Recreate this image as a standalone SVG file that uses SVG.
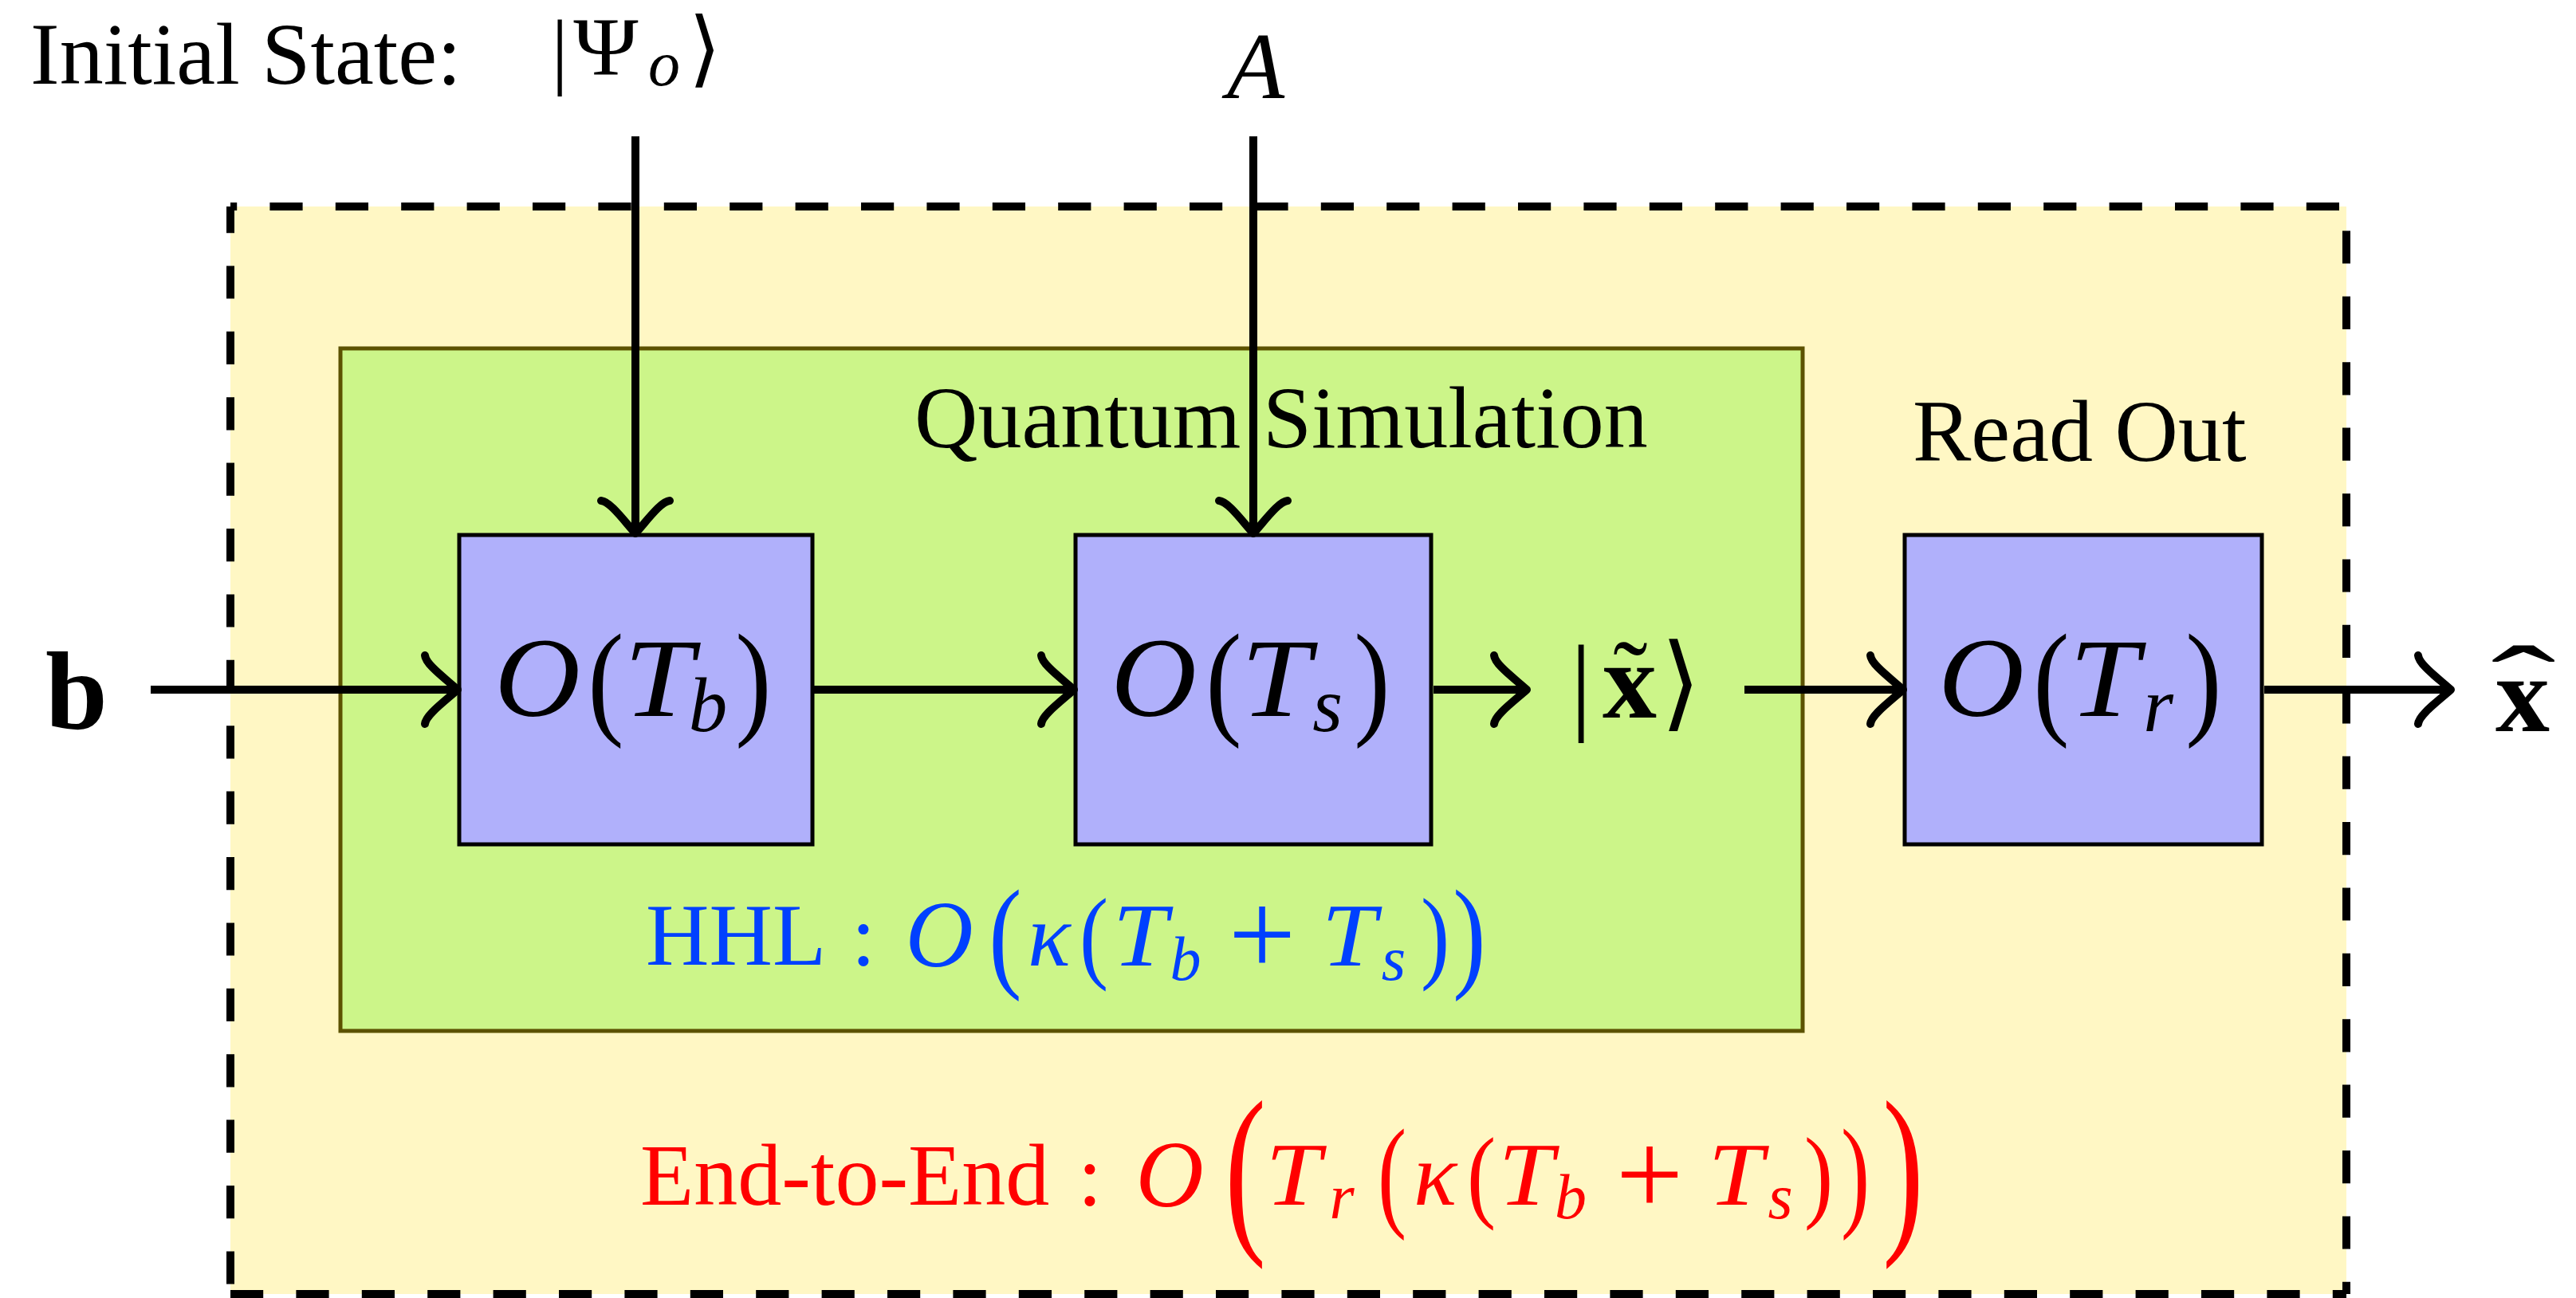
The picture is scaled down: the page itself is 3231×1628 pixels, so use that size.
<svg xmlns="http://www.w3.org/2000/svg" width="3231" height="1628" viewBox="0 0 3231 1628">
<defs>
<style>
.t{font-family:"Liberation Serif","Times New Roman",serif;fill:#000}
.it{font-style:italic}
.bd{font-weight:bold}
.blue{fill:#0040FF}
.red{fill:#FF0000}
.ang{font-family:"DejaVu Sans","Liberation Serif",serif}
.dash{stroke:#000;stroke-width:10;stroke-dasharray:41.2 41.2;fill:none}
.box{fill:#B0B0FB;stroke:#000;stroke-width:5}
.con{stroke:#000;stroke-width:10;fill:none;marker-end:url(#arr)}
</style>
<marker id="arr" markerUnits="userSpaceOnUse" viewBox="-50 -50 60 100" refX="0" refY="0" markerWidth="60" markerHeight="100" orient="auto" overflow="visible">
<path d="M-41,-43 C-40,-32 -18,-16 0,0 C-18,16 -40,32 -41,43" fill="none" stroke="#000" stroke-width="10" stroke-linecap="round" stroke-linejoin="round"/>
</marker>
</defs>

<g id="end-to-end-box">
<rect x="289" y="259" width="2654" height="1364" fill="#FFF7C4"/>
<line class="dash" x1="289" y1="259" x2="289" y2="1623" stroke-dashoffset="8"/>
<line class="dash" x1="289" y1="259" x2="2943" y2="259" stroke-dashoffset="33"/>
<line class="dash" x1="2943" y1="259" x2="2943" y2="1623" stroke-dashoffset="52"/>
<line class="dash" x1="289" y1="1623" x2="2943" y2="1623" stroke-dashoffset="0"/>
</g>

<g id="quantum-simulation">
<rect x="427" y="437" width="1834" height="856" fill="#CCF589" stroke="#5C5200" stroke-width="5"/>
<text class="t" x="1147" y="561" font-size="110">Quantum Simulation</text>
</g>

<g id="read-out-label">
<text class="t" x="2399" y="578" font-size="110">Read Out</text>
</g>

<g id="node-Tb">
<rect class="box" x="576" y="671" width="443" height="388"/>
<text class="t it" transform="translate(674,898) scale(1.05,1)" font-size="142" text-anchor="middle">O</text>
<text class="t" transform="translate(760,865) scale(0.85,1)" y="40" font-size="160" text-anchor="middle">(</text>
<text class="t it" transform="translate(826,898) scale(1.12,1)" font-size="140" text-anchor="middle">T</text>
<text class="t it" x="888" y="917" font-size="97" text-anchor="middle">b</text>
<text class="t" transform="translate(945,865) scale(0.85,1)" y="40" font-size="160" text-anchor="middle">)</text>
</g>

<g id="node-Ts">
<rect class="box" x="1349" y="671" width="446" height="388"/>
<text class="t it" transform="translate(1447,898) scale(1.05,1)" font-size="142" text-anchor="middle">O</text>
<text class="t" transform="translate(1535,865) scale(0.85,1)" y="40" font-size="160" text-anchor="middle">(</text>
<text class="t it" transform="translate(1600,898) scale(1.12,1)" font-size="140" text-anchor="middle">T</text>
<text class="t it" x="1665" y="917" font-size="97" text-anchor="middle">s</text>
<text class="t" transform="translate(1721,865) scale(0.85,1)" y="40" font-size="160" text-anchor="middle">)</text>
</g>

<g id="node-Tr">
<rect class="box" x="2389" y="671" width="448" height="388"/>
<text class="t it" transform="translate(2485,898) scale(1.05,1)" font-size="142" text-anchor="middle">O</text>
<text class="t" transform="translate(2573,865) scale(0.85,1)" y="40" font-size="160" text-anchor="middle">(</text>
<text class="t it" transform="translate(2639,898) scale(1.12,1)" font-size="140" text-anchor="middle">T</text>
<text class="t it" x="2707" y="917" font-size="97" text-anchor="middle">r</text>
<text class="t" transform="translate(2764,865) scale(0.85,1)" y="40" font-size="160" text-anchor="middle">)</text>
</g>

<g id="state-x-tilde">
<text class="t" x="1983" y="903" font-size="136" text-anchor="middle">|</text>
<text class="t bd" x="2044" y="900" font-size="136" text-anchor="middle">x</text>
<text class="t" x="2045" y="893" font-size="130" text-anchor="middle">˜</text>
<text class="t ang" x="2108" y="900" font-size="130" text-anchor="middle">⟩</text>
</g>

<g id="input-b">
<text class="t bd" x="96" y="914" font-size="140" text-anchor="middle">b</text>
</g>

<g id="output-x-hat">
<text class="t bd" x="3164" y="917" font-size="136" text-anchor="middle">x</text>
<text class="t" transform="translate(3165,904) scale(1.8,1)" font-size="136" text-anchor="middle">ˆ</text>
</g>

<g id="initial-state">
<text class="t" x="38" y="105" font-size="110">Initial State:</text>
<text class="t" x="702" y="98" font-size="106" text-anchor="middle">|</text>
<text class="t" transform="translate(760,94) scale(1.06,1)" font-size="104" text-anchor="middle">Ψ</text>
<text class="t it" x="833" y="107" font-size="80" text-anchor="middle">o</text>
<text class="t ang" x="884" y="96" font-size="104" text-anchor="middle">⟩</text>
</g>

<g id="input-A">
<text class="t it" x="1575" y="123" font-size="118" text-anchor="middle">A</text>
</g>

<g id="hhl-label">
<text class="t blue" x="810" y="1210" font-size="110">HHL</text>
<text class="t blue" x="1083" y="1210" font-size="110" text-anchor="middle">:</text>
<text class="t it blue" x="1178" y="1212" font-size="118" text-anchor="middle">O</text>
<text class="t blue" transform="translate(1261,1184) scale(0.8,1)" y="38.7" font-size="155" text-anchor="middle">(</text>
<text class="t it blue" x="1316" y="1211" font-size="112" text-anchor="middle">κ</text>
<text class="t blue" transform="translate(1372,1184) scale(0.7,0.83)" y="38.7" font-size="155" text-anchor="middle">(</text>
<text class="t it blue" transform="translate(1430,1211) scale(1.1,1)" font-size="112" text-anchor="middle">T</text>
<text class="t it blue" x="1487" y="1229" font-size="78" text-anchor="middle">b</text>
<text class="t blue" x="1583" y="1222" font-size="150" text-anchor="middle">+</text>
<text class="t it blue" transform="translate(1692,1211) scale(1.1,1)" font-size="112" text-anchor="middle">T</text>
<text class="t it blue" x="1748" y="1229" font-size="78" text-anchor="middle">s</text>
<text class="t blue" transform="translate(1800,1184) scale(0.7,0.83)" y="38.7" font-size="155" text-anchor="middle">)</text>
<text class="t blue" transform="translate(1843,1184) scale(0.8,1)" y="38.7" font-size="155" text-anchor="middle">)</text>
</g>

<g id="end-to-end-label">
<text class="t red" x="803" y="1511" font-size="110">End-to-End</text>
<text class="t red" x="1367" y="1511" font-size="110" text-anchor="middle">:</text>
<text class="t it red" x="1467" y="1513" font-size="118" text-anchor="middle">O</text>
<text class="t red" transform="translate(1562,1484) scale(1,1.5)" y="38.7" font-size="155" text-anchor="middle">(</text>
<text class="t it red" transform="translate(1622,1511) scale(1.1,1)" font-size="113" text-anchor="middle">T</text>
<text class="t it red" x="1683" y="1528" font-size="80" text-anchor="middle">r</text>
<text class="t red" transform="translate(1746,1484) scale(0.7,1)" y="38.7" font-size="155" text-anchor="middle">(</text>
<text class="t it red" x="1800" y="1511" font-size="113" text-anchor="middle">κ</text>
<text class="t red" transform="translate(1858,1484) scale(0.7,0.83)" y="38.7" font-size="155" text-anchor="middle">(</text>
<text class="t it red" transform="translate(1914,1511) scale(1.1,1)" font-size="113" text-anchor="middle">T</text>
<text class="t it red" x="1970" y="1528" font-size="80" text-anchor="middle">b</text>
<text class="t red" x="2069" y="1523" font-size="150" text-anchor="middle">+</text>
<text class="t it red" transform="translate(2177,1511) scale(1.1,1)" font-size="113" text-anchor="middle">T</text>
<text class="t it red" x="2233" y="1528" font-size="80" text-anchor="middle">s</text>
<text class="t red" transform="translate(2281,1484) scale(0.7,0.83)" y="38.7" font-size="155" text-anchor="middle">)</text>
<text class="t red" transform="translate(2327,1484) scale(0.7,1)" y="38.7" font-size="155" text-anchor="middle">)</text>
<text class="t red" transform="translate(2387,1484) scale(1,1.5)" y="38.7" font-size="155" text-anchor="middle">)</text>
</g>

<g id="connectors">
<line class="con" x1="797" y1="171" x2="797" y2="669"/>
<line class="con" x1="1572" y1="171" x2="1572" y2="669"/>
<line class="con" x1="189" y1="865" x2="574" y2="865"/>
<line class="con" x1="1021" y1="865" x2="1347" y2="865"/>
<line class="con" x1="1798" y1="865" x2="1915" y2="865"/>
<line class="con" x1="2188" y1="865" x2="2387" y2="865"/>
<line class="con" x1="2840" y1="865" x2="3074" y2="865"/>
</g>
</svg>
